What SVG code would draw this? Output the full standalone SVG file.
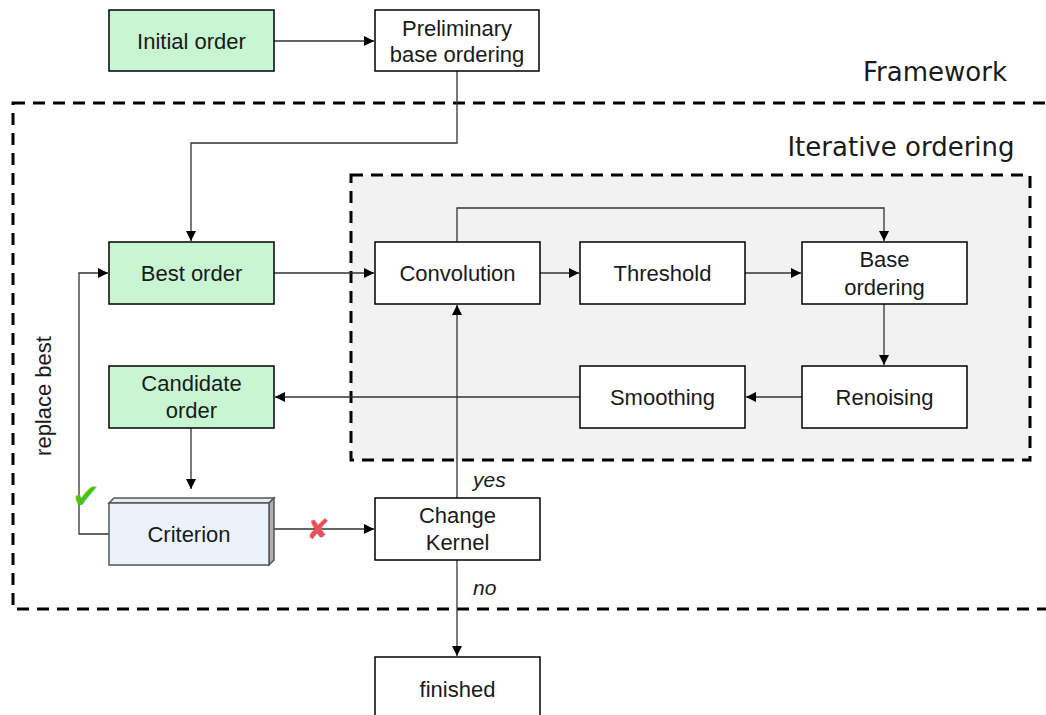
<svg xmlns="http://www.w3.org/2000/svg" width="1046" height="715" viewBox="0 0 1046 715">
<style>
.n{stroke:#000;stroke-width:1.5}
.w{fill:#fff}
.g{fill:#c8f5d2}
.t{font-family:"Liberation Sans",Arial,sans-serif;font-size:22px;fill:#1a1a1a;text-anchor:middle}
.h{font-family:"DejaVu Sans",Verdana,sans-serif;font-size:26px;fill:#1a1a1a;text-anchor:middle}
.i{font-family:"Liberation Sans",Arial,sans-serif;font-size:21px;font-style:italic;fill:#1a1a1a}
.c{fill:none;stroke:#333;stroke-width:1.3}
.d{stroke:#000;stroke-width:3;stroke-dasharray:12 8}
</style>
<defs>
<marker id="a" viewBox="0 0 10 10" refX="10" refY="5" markerWidth="10" markerHeight="10" markerUnits="userSpaceOnUse" orient="auto">
<path d="M0,0L10,5L0,10z" fill="#000"/>
</marker>
</defs>
<rect width="1046" height="715" fill="#fff"/>
<g id="framework">
<rect class="d" x="13" y="103" width="1045" height="506" style="fill:none"/>
<text class="h" x="935" y="81">Framework</text>
</g>
<g id="iterative">
<rect class="d" x="351" y="175" width="679" height="285" style="fill:#f2f2f2"/>
<text class="h" x="901" y="156">Iterative ordering</text>
</g>
<g id="connectors">
<path class="c" d="M274,41H374" marker-end="url(#a)"/>
<path class="c" d="M457,71V143H191V241" marker-end="url(#a)"/>
<path class="c" d="M274,273H374" marker-end="url(#a)"/>
<path class="c" d="M457,242V208H884V241" marker-end="url(#a)"/>
<path class="c" d="M540,273H579" marker-end="url(#a)"/>
<path class="c" d="M745,273H801" marker-end="url(#a)"/>
<path class="c" d="M884,304V365" marker-end="url(#a)"/>
<path class="c" d="M802,397H746" marker-end="url(#a)"/>
<path class="c" d="M580,397H275" marker-end="url(#a)"/>
<path class="c" d="M191,428V489" marker-end="url(#a)"/>
<path class="c" d="M274,529H374" marker-end="url(#a)"/>
<path class="c" d="M109,534H79V273H108" marker-end="url(#a)"/>
<path class="c" d="M457,498V305" marker-end="url(#a)"/>
<path class="c" d="M457,560V656" marker-end="url(#a)"/>
<text x="318" y="539" font-family="DejaVu Sans,sans-serif" font-size="28" font-weight="bold" fill="#e8505b" text-anchor="middle">✘</text>
<text x="86" y="508" font-family="DejaVu Sans,sans-serif" font-size="34" fill="#4cc417" text-anchor="middle">✔</text>
<text class="i" x="473" y="487">yes</text>
<text class="i" x="473" y="595">no</text>
<text class="t" transform="translate(51,396) rotate(-90)">replace best</text>
</g>
<g id="initial"><rect class="n g" x="109" y="10" width="165" height="61"/><text class="t" x="191.5" y="49">Initial order</text></g>
<g id="prelim"><rect class="n w" x="375" y="10" width="164" height="61"/><text class="t" x="457" y="36">Preliminary</text><text class="t" x="457" y="62">base ordering</text></g>
<g id="best"><rect class="n g" x="109" y="242" width="165" height="62"/><text class="t" x="191.5" y="281">Best order</text></g>
<g id="conv"><rect class="n w" x="375" y="242" width="165" height="62"/><text class="t" x="457.5" y="281">Convolution</text></g>
<g id="thresh"><rect class="n w" x="580" y="242" width="165" height="62"/><text class="t" x="662.5" y="281">Threshold</text></g>
<g id="base"><rect class="n w" x="802" y="242" width="165" height="62"/><text class="t" x="884.5" y="267">Base</text><text class="t" x="884.5" y="295">ordering</text></g>
<g id="renoise"><rect class="n w" x="802" y="366" width="165" height="62"/><text class="t" x="884.5" y="405">Renoising</text></g>
<g id="smooth"><rect class="n w" x="580" y="366" width="165" height="62"/><text class="t" x="662.5" y="405">Smoothing</text></g>
<g id="cand"><rect class="n g" x="109" y="366" width="165" height="62"/><text class="t" x="191.5" y="391">Candidate</text><text class="t" x="191.5" y="418">order</text></g>
<g id="criterion">
<path d="M109,503L114,498H274L269,503Z" fill="#e4ebf2" stroke="#555" stroke-width="1.5"/>
<path d="M269,503L274,498V560L269,565Z" fill="#b0b0b0" stroke="#555" stroke-width="1.5"/>
<rect x="109" y="503" width="160" height="62" fill="#ebf2f9" stroke="#555" stroke-width="1.5"/>
<text class="t" x="189" y="542">Criterion</text>
</g>
<g id="kernel"><rect class="n w" x="375" y="498" width="165" height="62"/><text class="t" x="457.5" y="523">Change</text><text class="t" x="457.5" y="550">Kernel</text></g>
<g id="finished"><rect class="n w" x="375" y="657" width="165" height="70"/><text class="t" x="457.5" y="697">finished</text></g>
</svg>
